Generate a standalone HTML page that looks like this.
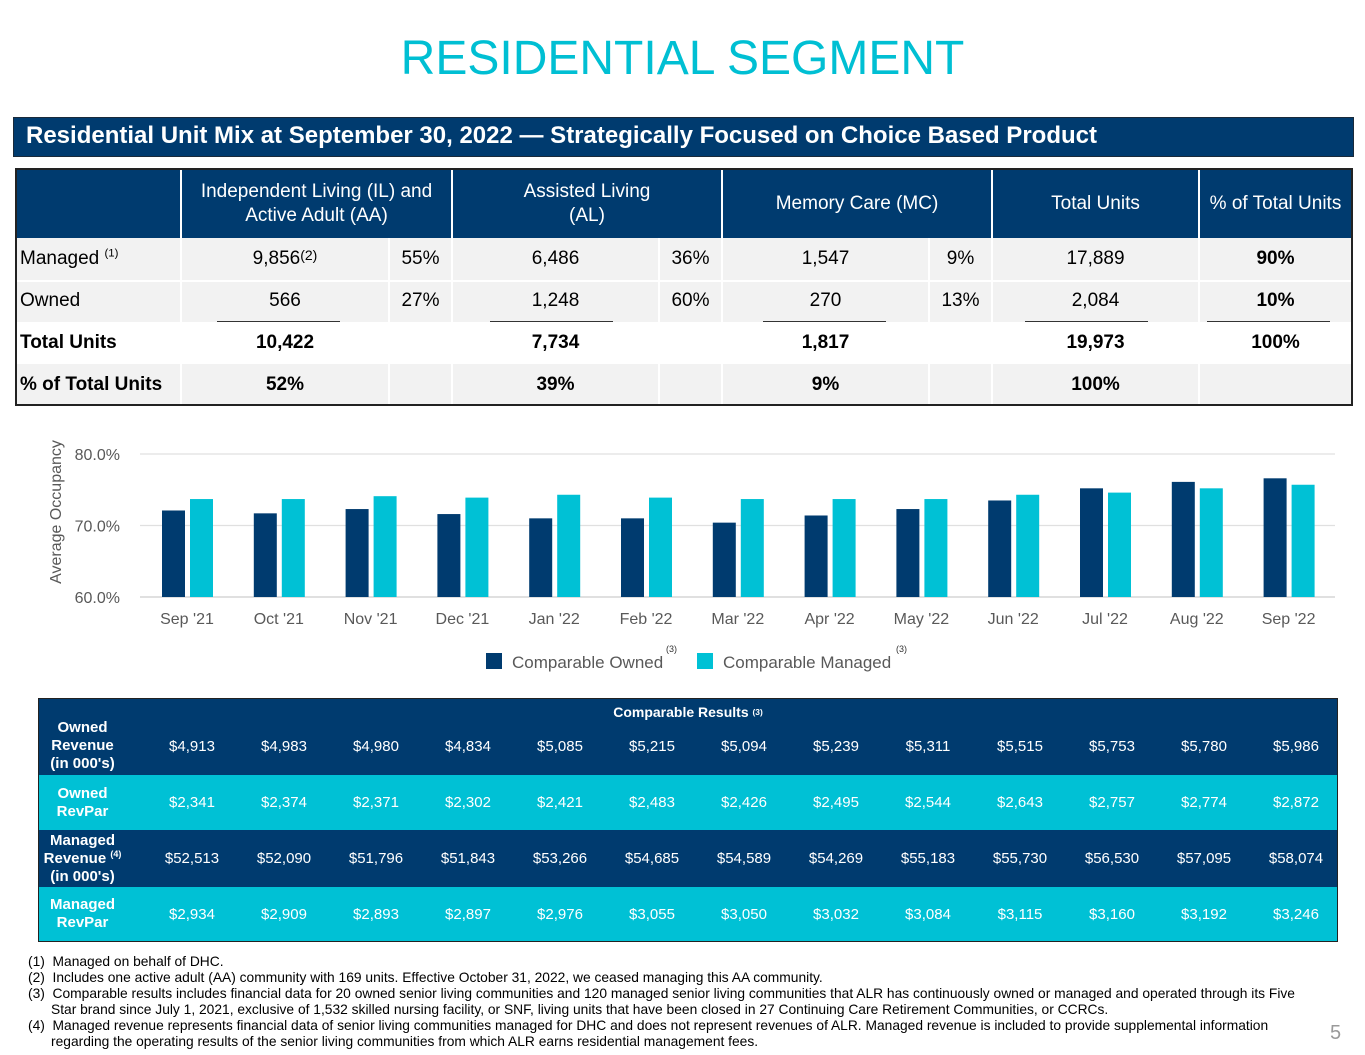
<!DOCTYPE html>
<html><head><meta charset="utf-8"><style>
*{margin:0;padding:0;box-sizing:border-box}
body{width:1365px;height:1055px;background:#fff;position:relative;overflow:hidden;font-family:"Liberation Sans",Arial,sans-serif;color:#000}
.a{position:absolute}
.c{position:absolute;display:flex;align-items:center;justify-content:center;text-align:center}
.t{font-size:19px}
.b{font-weight:bold}
.hd{color:#fff;font-size:19px;line-height:24px}
.bt{color:#fff;font-size:15px}
.bl{color:#fff;font-size:15px;font-weight:bold;line-height:18px}
.bl span{display:block}
sup{font-size:60%;vertical-align:super;line-height:0}
.fn{font-family:"Liberation Sans",sans-serif;font-size:13.8px;line-height:16px;left:28px;width:1320px;color:#000;white-space:nowrap}
</style></head><body>
<div class="c" style="left:0;top:28px;width:1365px;height:60px;font-size:48px;color:#00bfd3">RESIDENTIAL SEGMENT</div>
<div class="a" style="left:13px;top:117px;width:1341px;height:40px;background:#003b6f;border:1px solid #1a2a3a;color:#fff;font-weight:bold;font-size:24px;line-height:36px;padding-left:12px">Residential Unit Mix at September 30, 2022 — Strategically Focused on Choice Based Product</div>

<div class="a" style="left:15px;top:168px;width:1338px;height:238px;border:2px solid #222;background:#fff;overflow:hidden">
 <div class="a" style="left:0;top:0;width:1334px;height:68px;background:#003b6f"></div>
 <div class="a" style="left:0;top:68px;width:1334px;height:42px;background:#f2f2f2"></div>
 <div class="a" style="left:0;top:110px;width:1334px;height:42px;background:#f2f2f2;border-top:2px solid #fff"></div>
 <div class="a" style="left:0;top:194px;width:1334px;height:40px;background:#f2f2f2"></div>
 <div class="a" style="left:163px;top:0;width:2px;height:236px;background:#fff"></div>
 <div class="a" style="left:434px;top:0;width:2px;height:236px;background:#fff"></div>
 <div class="a" style="left:704px;top:0;width:2px;height:236px;background:#fff"></div>
 <div class="a" style="left:974px;top:0;width:2px;height:236px;background:#fff"></div>
 <div class="a" style="left:1181px;top:0;width:2px;height:236px;background:#fff"></div>
 <div class="a" style="left:371px;top:68px;width:2px;height:168px;background:#fff"></div>
 <div class="a" style="left:641px;top:68px;width:2px;height:168px;background:#fff"></div>
 <div class="a" style="left:911px;top:68px;width:2px;height:168px;background:#fff"></div>
 <div class="c hd" style="left:165px;top:0;width:269px;height:68px">Independent Living (IL) and<br>Active Adult (AA)</div>
 <div class="c hd" style="left:436px;top:0;width:268px;height:68px">Assisted Living<br>(AL)</div>
 <div class="c hd" style="left:706px;top:0;width:268px;height:68px">Memory Care (MC)</div>
 <div class="c hd" style="left:976px;top:0;width:205px;height:68px">Total Units</div>
 <div class="c hd" style="left:1183px;top:0;width:151px;height:68px">% of Total Units</div>

 <div class="a t" style="left:3px;top:78px">Managed <sup>(1)</sup></div>
 <div class="c t" style="left:165px;top:68px;width:206px;height:42px">9,856<sup style="font-size:14px;position:relative;top:-4px">(2)</sup></div>
 <div class="c t" style="left:373px;top:68px;width:61px;height:42px">55%</div>
 <div class="c t" style="left:436px;top:68px;width:205px;height:42px">6,486</div>
 <div class="c t" style="left:643px;top:68px;width:61px;height:42px">36%</div>
 <div class="c t" style="left:706px;top:68px;width:205px;height:42px">1,547</div>
 <div class="c t" style="left:913px;top:68px;width:61px;height:42px">9%</div>
 <div class="c t" style="left:976px;top:68px;width:205px;height:42px">17,889</div>
 <div class="c t b" style="left:1183px;top:68px;width:151px;height:42px">90%</div>

 <div class="a t" style="left:3px;top:120px">Owned</div>
 <div class="c t" style="left:165px;top:110px;width:206px;height:42px">566</div>
 <div class="c t" style="left:373px;top:110px;width:61px;height:42px">27%</div>
 <div class="c t" style="left:436px;top:110px;width:205px;height:42px">1,248</div>
 <div class="c t" style="left:643px;top:110px;width:61px;height:42px">60%</div>
 <div class="c t" style="left:706px;top:110px;width:205px;height:42px">270</div>
 <div class="c t" style="left:913px;top:110px;width:61px;height:42px">13%</div>
 <div class="c t" style="left:976px;top:110px;width:205px;height:42px">2,084</div>
 <div class="c t b" style="left:1183px;top:110px;width:151px;height:42px">10%</div>
 <div class="a" style="left:200px;top:151px;width:123px;height:1px;background:#333"></div>
 <div class="a" style="left:473px;top:151px;width:123px;height:1px;background:#333"></div>
 <div class="a" style="left:746px;top:151px;width:123px;height:1px;background:#333"></div>
 <div class="a" style="left:1008px;top:151px;width:123px;height:1px;background:#333"></div>
 <div class="a" style="left:1190px;top:151px;width:123px;height:1px;background:#333"></div>

 <div class="a t b" style="left:3px;top:162px">Total Units</div>
 <div class="c t b" style="left:165px;top:152px;width:206px;height:42px">10,422</div>
 <div class="c t b" style="left:436px;top:152px;width:205px;height:42px">7,734</div>
 <div class="c t b" style="left:706px;top:152px;width:205px;height:42px">1,817</div>
 <div class="c t b" style="left:976px;top:152px;width:205px;height:42px">19,973</div>
 <div class="c t b" style="left:1183px;top:152px;width:151px;height:42px">100%</div>

 <div class="a t b" style="left:3px;top:204px">% of Total Units</div>
 <div class="c t b" style="left:165px;top:194px;width:206px;height:42px">52%</div>
 <div class="c t b" style="left:436px;top:194px;width:205px;height:42px">39%</div>
 <div class="c t b" style="left:706px;top:194px;width:205px;height:42px">9%</div>
 <div class="c t b" style="left:976px;top:194px;width:205px;height:42px">100%</div>
</div>

<svg class="a" id="chart" style="left:0;top:420px" width="1365" height="270"></svg>

<div class="a" style="left:38px;top:698px;width:1300px;height:244px;border:1px solid #222">
 <div class="a" style="left:0;top:0;width:1298px;height:76px;background:#003b6f"></div>
 <div class="a" style="left:0;top:76px;width:1298px;height:55px;background:#00c1d5"></div>
 <div class="a" style="left:0;top:131px;width:1298px;height:57px;background:#003b6f"></div>
 <div class="a" style="left:0;top:188px;width:1298px;height:54px;background:#00c1d5"></div>
 <div class="c bl" style="left:0;top:3px;width:1298px;height:20px;font-size:14px">Comparable Results&nbsp;<sup>(3)</sup></div>
 <div class="c bl" style="left:0;top:18px;width:87px;height:58px;flex-direction:column"><span>Owned</span><span>Revenue</span><span>(in 000's)</span></div>
 <div class="c bl" style="left:0;top:76px;width:87px;height:55px;flex-direction:column"><span>Owned</span><span>RevPar</span></div>
 <div class="c bl" style="left:0;top:131px;width:87px;height:57px;flex-direction:column"><span>Managed</span><span>Revenue <sup>(4)</sup></span><span>(in 000's)</span></div>
 <div class="c bl" style="left:0;top:188px;width:87px;height:54px;flex-direction:column"><span>Managed</span><span>RevPar</span></div>
 <div id="rows"></div>
</div>

<div class="a fn" style="top:954px">
(1)&nbsp; Managed on behalf of DHC.<br>
(2)&nbsp; Includes one active adult (AA) community with 169 units. Effective October 31, 2022, we ceased managing this AA community.<br>
(3)&nbsp; Comparable results includes financial data for 20 owned senior living communities and 120 managed senior living communities that ALR has continuously owned or managed and operated through its Five<br>
&nbsp;&nbsp;&nbsp;&nbsp;&nbsp;&nbsp;Star brand since July 1, 2021, exclusive of 1,532 skilled nursing facility, or SNF, living units that have been closed in 27 Continuing Care Retirement Communities, or CCRCs.<br>
(4)&nbsp; Managed revenue represents financial data of senior living communities managed for DHC and does not represent revenues of ALR. Managed revenue is included to provide supplemental information<br>
&nbsp;&nbsp;&nbsp;&nbsp;&nbsp;&nbsp;regarding the operating results of the senior living communities from which ALR earns residential management fees.
</div>
<div class="a" style="left:1330px;top:1022px;font-size:20px;color:#9a9a9a">5</div>

<script>
const months=["Sep '21","Oct '21","Nov '21","Dec '21","Jan '22","Feb '22","Mar '22","Apr '22","May '22","Jun '22","Jul '22","Aug '22","Sep '22"];
const owned=[72.1,71.7,72.3,71.6,71.0,71.0,70.4,71.4,72.3,73.5,75.2,76.1,76.6];
const managed=[73.7,73.7,74.1,73.9,74.3,73.9,73.7,73.7,73.7,74.3,74.6,75.2,75.7];
const yTicks=[60,70,80];
const ownedRevenue=["$4,913","$4,983","$4,980","$4,834","$5,085","$5,215","$5,094","$5,239","$5,311","$5,515","$5,753","$5,780","$5,986"];
const ownedRevPar=["$2,341","$2,374","$2,371","$2,302","$2,421","$2,483","$2,426","$2,495","$2,544","$2,643","$2,757","$2,774","$2,872"];
const managedRevenue=["$52,513","$52,090","$51,796","$51,843","$53,266","$54,685","$54,589","$54,269","$55,183","$55,730","$56,530","$57,095","$58,074"];
const managedRevPar=["$2,934","$2,909","$2,893","$2,897","$2,976","$3,055","$3,050","$3,032","$3,084","$3,115","$3,160","$3,192","$3,246"];

const NS="http://www.w3.org/2000/svg";
const svg=document.getElementById('chart');
const y=v=>177-(v-60)*7.15;
const x=i=>185+i*91.8;
function el(tag,attrs,txt){const e=document.createElementNS(NS,tag);for(const k in attrs)e.setAttribute(k,attrs[k]);if(txt!=null)e.textContent=txt;svg.appendChild(e);return e;}
yTicks.forEach(t=>{
 const g=el('line',{x1:140,x2:1335,y1:y(t),y2:y(t),stroke:'#e0e0e0','stroke-width':t===60?2:1.2});
 
 
 const l=el('text',{x:120,y:y(t)+6,'text-anchor':'end','font-size':16,fill:'#595959','font-family':'Liberation Sans'},t.toFixed(1)+'%');
 
 
});
const at=el('text',{x:0,y:0,'font-size':16,fill:'#595959','font-family':'Liberation Sans','text-anchor':'middle'},'Average Occupancy');
at.setAttribute('transform','translate(61,92) rotate(-90)');


months.forEach((m,i)=>{
 const b1=el('rect',{x:x(i)-23,y:y(owned[i]),width:23,height:y(60)-y(owned[i]),fill:'#003b6f'});
 
 
 const b2=el('rect',{x:x(i)+5,y:y(managed[i]),width:23,height:y(60)-y(managed[i]),fill:'#00c1d5'});
 
 
 const t=el('text',{x:x(i)+2,y:204,'text-anchor':'middle','font-size':16,fill:'#595959','font-family':'Liberation Sans'},m);
 
 
});
const lg=[[486,'#003b6f','Comparable Owned',666],[697,'#00c1d5','Comparable Managed',896]];
lg.forEach(([lx,c,txt,sx])=>{
 const r=el('rect',{x:lx,y:233,width:16,height:16,fill:c});
 
 
 const t=el('text',{x:lx+26,y:248,'font-size':17,fill:'#595959','font-family':'Liberation Sans'},txt);
 
 
 const s=el('text',{x:sx,y:232,'font-size':9,fill:'#333','font-family':'Liberation Sans'},'(3)');
 
 
});
const rows=document.getElementById('rows');
[[ownedRevenue,18,58],[ownedRevPar,76,55],[managedRevenue,131,57],[managedRevPar,188,54]].forEach(([arr,top,h])=>{
 arr.forEach((v,i)=>{
  const d=document.createElement('div');
  d.className='c bt';
  d.style.cssText=`left:${153+i*92-45}px;top:${top}px;width:90px;height:${h}px`;
  d.textContent=v;
  
  
  rows.appendChild(d);
 });
});
</script>
</body></html>
